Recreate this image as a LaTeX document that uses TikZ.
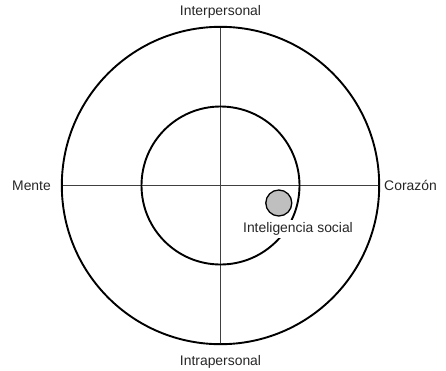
\documentclass[tikz,border=0pt]{standalone}
\usepackage{fontspec}
\setmainfont{Liberation Sans}
\begin{document}
\begin{tikzpicture}[x=1pt,y=-1pt,
  ring/.style={draw=black,line width=1.9pt},
  axis/.style={draw=black!75,line width=0.9pt},
  lbl/.style={font=\fontsize{13.9}{15}\selectfont,text=black!85,inner sep=2pt},
  dot/.style={circle,draw=black,line width=1.3pt,fill=black!25,minimum size=26pt,inner sep=0pt}]
\useasboundingbox (0,0) rectangle (446,370);
\coordinate (c) at (220.5,185.5);
\coordinate (top) at (220.5,26.8);
\coordinate (bot) at (220.5,344.2);
\coordinate (lft) at (61.8,185.5);
\coordinate (rgt) at (379.2,185.5);
\draw[axis] (top) -- (bot);
\draw[axis] (lft) -- (rgt);
\draw[ring] (c) circle[radius=158.7];
\draw[ring] (c) circle[radius=79];
\node[dot] (soc) at (278.8,203) {};
\node[lbl,fill=white,inner sep=3pt] (socl) at (298,229) {Inteligencia social};
\node[lbl] (inter) at (220.5,12) {Interpersonal};
\node[lbl] (intra) at (220.5,362) {Intrapersonal};
\node[lbl] (mente) at (31.5,185.5) {Mente};
\node[lbl] (cor) at (410.5,185.5) {Corazón};
\end{tikzpicture}
\end{document}
